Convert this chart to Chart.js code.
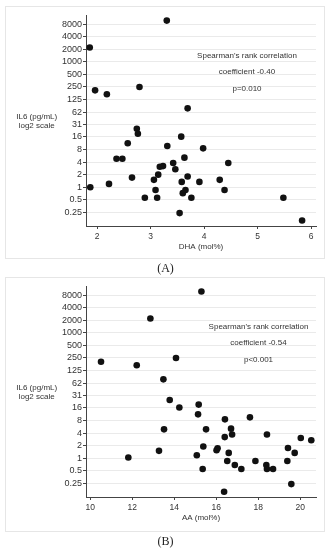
<!DOCTYPE html>
<html>
<head>
<meta charset="utf-8">
<script src="https://cdn.jsdelivr.net/npm/chart.js@4.4.0/dist/chart.umd.min.js"></script>
<style>
  html, body { margin: 0; padding: 0; background: #fff; }
  body { width: 331px; height: 550px; position: relative; overflow: hidden; }
  .marco { position: absolute; left: 5px; width: 320px; box-sizing: border-box; border: 1px solid #e6e6e6; }
  canvas { position: absolute; left: 0; }
  .rotulo { position: absolute; left: 0; width: 331px; text-align: center; line-height: 14px;
            font: 12px "Liberation Serif", "Times New Roman", serif; color: #222; }
</style>
</head>
<body>
<div class="marco" style="top:6px;height:253px"></div>
<canvas id="graficoDHA" width="331" height="262" style="top:0px"></canvas>
<div class="rotulo" style="top:261px">(A)</div>

<div class="marco" style="top:277px;height:255px"></div>
<canvas id="graficoAA" width="331" height="262" style="top:271px"></canvas>
<div class="rotulo" style="top:534px">(B)</div>

<script>
// Panel A: DHA (mol%) frente a IL6 (pg/mL)
const dhaMol = [3.30, 1.86, 1.96, 2.18, 2.79, 3.69, 2.74, 2.76, 3.57, 2.57,
                3.31, 3.98, 2.36, 2.47, 3.63, 3.42, 4.45, 3.17, 3.23, 3.46,
                3.14, 3.69, 2.65, 3.06, 4.29, 3.58, 3.91, 2.22, 1.87, 3.09,
                3.65, 4.38, 3.60, 2.89, 3.12, 3.76, 5.48, 3.54, 5.83];
const dhaIL6 = [9700, 2200, 208, 167, 249, 77, 25, 19, 16.2, 11.3,
                9.7, 8.5, 4.8, 4.8, 5.1, 3.8, 3.8, 3.1, 3.2, 2.7,
                2.0, 1.8, 1.7, 1.5, 1.5, 1.34, 1.34, 1.2, 1.0, 0.86,
                0.86, 0.86, 0.72, 0.56, 0.56, 0.56, 0.56, 0.24, 0.16];

// Panel B: AA (mol%) frente a IL6 (pg/mL)
const aaMol = [15.29, 12.86, 10.51, 12.21, 14.08, 13.48, 13.78, 14.24, 15.16, 15.13,
               17.60, 16.41, 13.51, 15.51, 16.70, 16.75, 18.41, 16.40, 20.02, 20.52,
               15.38, 19.41, 16.06, 16.01, 13.27, 16.59, 19.73, 15.07, 11.81, 16.52,
               17.86, 19.38, 16.88, 18.38, 15.35, 17.19, 18.41, 18.70, 19.57, 16.37];
const aaIL6 = [9750, 2210, 204, 167, 249, 77, 24.7, 16.3, 19.2, 11.2,
               9.5, 8.5, 4.9, 4.9, 5.1, 3.7, 3.7, 3.2, 3.05, 2.7,
               1.9, 1.76, 1.73, 1.55, 1.5, 1.34, 1.34, 1.18, 1.04, 0.86,
               0.86, 0.86, 0.69, 0.69, 0.55, 0.55, 0.55, 0.55, 0.24, 0.157];

// Eje Y (escala log2) y ejes X
const ejeYValores = [0.25, 0.5, 1, 2, 4, 8, 16, 31, 62, 125, 250, 500, 1000, 2000, 4000, 8000];
const ejeYEtiquetas = ['0.25', '0.5', '1', '2', '4', '8', '16', '31', '62', '125', '250', '500', '1000', '2000', '4000', '8000'];
const ticksDHA = [2, 3, 4, 5, 6];
const ticksAA = [10, 12, 14, 16, 18, 20];

const tituloY = ['IL6 (pg/mL)', 'log2 scale'];
const textoDHA = ["Spearman's rank correlation", 'coefficient -0.40', 'p=0.010'];
const textoAA = ["Spearman's rank correlation", 'coefficient -0.54', 'p<0.001'];

const fuente = '"Liberation Sans", Arial, sans-serif';
const colorTexto = '#333';

Chart.defaults.font.family = fuente;
Chart.defaults.font.size = 8;
Chart.defaults.color = colorTexto;

// Dibuja el titulo del eje Y (horizontal) y el texto de la correlacion
const textosExtra = {
    id: 'textosExtra',
    afterDraw(chart, args, opts) {
        const { ctx, chartArea } = chart;
        ctx.save();
        ctx.font = '8px ' + fuente;
        ctx.fillStyle = colorTexto;
        ctx.textAlign = 'center';
        ctx.textBaseline = 'middle';
        tituloY.forEach((t, i) => ctx.fillText(t, 36.7, chartArea.top + 102 + i * 8.5));
        opts.lineas.forEach((t, i) => ctx.fillText(t, chartArea.left + opts.dx, chartArea.top + 41 + i * 16.2));
        ctx.restore();
    }
};

function crearGrafico(id, xs, ys, xMin, xMax, xTicks, tituloX, lineas, dx) {
    const ctx = document.getElementById(id).getContext('2d');
    const puntos = xs.map((x, i) => ({ x: x, y: ys[i] }));

    return new Chart(ctx, {
        type: 'scatter',
        data: {
            datasets: [{
                data: puntos,
                backgroundColor: '#111',
                borderWidth: 0,
                pointRadius: 3.3,
                pointHoverRadius: 3.3
            }]
        },
        options: {
            responsive: false,
            animation: false,
            devicePixelRatio: 1,
            layout: { padding: { left: 0, right: 15, top: 15, bottom: 10 } },
            scales: {
                x: {
                    type: 'linear',
                    min: xMin,
                    max: xMax,
                    afterBuildTicks: scale => { scale.ticks = xTicks.map(v => ({ value: v })); },
                    afterFit: scale => { scale.height = 26; },
                    grid: { drawOnChartArea: false, drawTicks: true, tickLength: 3, tickColor: '#444' },
                    border: { display: true, color: '#444', width: 1 },
                    ticks: { padding: 3, color: colorTexto, maxRotation: 0, font: { size: 8.5 } },
                    title: { display: true, text: tituloX, color: colorTexto, padding: 0 }
                },
                y: {
                    type: 'logarithmic',
                    min: 0.118,
                    max: 13200,
                    afterBuildTicks: scale => { scale.ticks = ejeYValores.map(v => ({ value: v })); },
                    afterFit: scale => { scale.width = 86; },
                    grid: { color: '#eaeaea', lineWidth: 1, drawTicks: true, tickLength: 3, tickColor: '#444' },
                    border: { display: true, color: '#444', width: 1 },
                    ticks: {
                        padding: 1,
                        color: colorTexto,
                        autoSkip: false,
                        font: { size: 9 },
                        callback: (valor, indice) => ejeYEtiquetas[indice]
                    }
                }
            },
            plugins: {
                legend: { display: false },
                tooltip: { enabled: false },
                textosExtra: { lineas: lineas, dx: dx }
            }
        },
        plugins: [textosExtra]
    });
}

crearGrafico('graficoDHA', dhaMol, dhaIL6, 1.79, 6.09, ticksDHA, 'DHA (mol%)', textoDHA, 161);
crearGrafico('graficoAA', aaMol, aaIL6, 9.795, 20.745, ticksAA, 'AA (mol%)', textoAA, 172.5);
</script>
</body>
</html>
